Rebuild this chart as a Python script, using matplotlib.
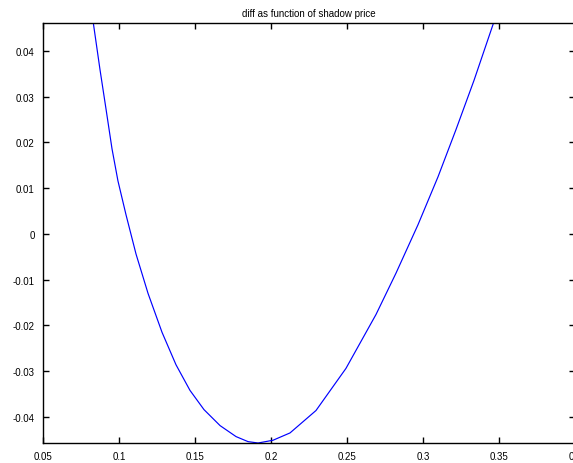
import matplotlib
matplotlib.use("Agg")
import matplotlib.pyplot as plt
from matplotlib.ticker import FixedLocator, FuncFormatter

plt.rcParams['font.family'] = ['Liberation Sans', 'DejaVu Sans']
plt.rcParams['axes.unicode_minus'] = False

# shadow price (x) and diff (y)
shadow_price = [0.0831, 0.0875, 0.0915, 0.0954, 0.0993, 0.1046, 0.1112, 0.1191,
                0.1283, 0.1375, 0.1467, 0.1559, 0.1665, 0.1770, 0.1849, 0.1915,
                0.2013, 0.2125, 0.2296, 0.2493, 0.2691, 0.2822, 0.2967, 0.3099,
                0.3217, 0.3336, 0.3463]
diff = [0.0461, 0.0359, 0.0272, 0.0186, 0.0116, 0.0042, -0.0044, -0.0130,
        -0.0215, -0.0286, -0.0342, -0.0384, -0.0419, -0.0443, -0.0454, -0.0457,
        -0.0451, -0.0435, -0.0386, -0.0294, -0.0176, -0.0086, 0.0020, 0.0125,
        0.0228, 0.0336, 0.0460]

x_ticks = [0.05, 0.1, 0.15, 0.2, 0.25, 0.3, 0.35, 0.4]
y_ticks = [-0.04, -0.03, -0.02, -0.01, 0, 0.01, 0.02, 0.03, 0.04]
title = "diff as function of shadow price"

fig = plt.figure(figsize=(5.73, 4.64), dpi=100)
ax = fig.add_axes([43/573, 1 - 444/464, 532/573, 420/464])
ax.plot(shadow_price, diff, color='#0000ff', linewidth=0.85)
ax.set_xlim(0.05, 0.4)
ax.set_ylim(-0.0457, 0.0461)

fmt = FuncFormatter(lambda v, p: "%g" % round(v, 4))
ax.xaxis.set_major_locator(FixedLocator(x_ticks))
ax.yaxis.set_major_locator(FixedLocator(y_ticks))
ax.xaxis.set_major_formatter(fmt)
ax.yaxis.set_major_formatter(fmt)
ax.tick_params(direction='in', length=4, width=1, labelsize=7, colors='black',
               top=True, right=True, pad=6)
for s in ax.spines.values():
    s.set_linewidth(1.0)
ax.set_title(title, fontsize=7, pad=5)
fig.savefig("out.png", dpi=100)
